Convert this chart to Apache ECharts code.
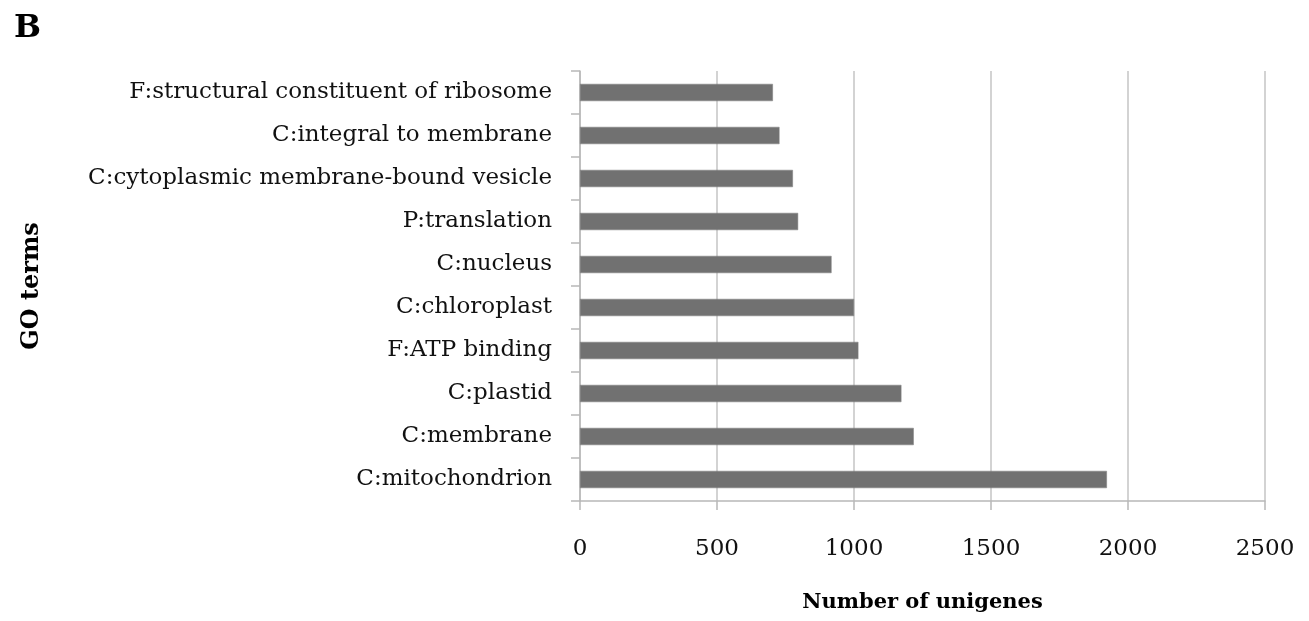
<!DOCTYPE html>
<html><head><meta charset="utf-8">
<script src="https://cdn.jsdelivr.net/npm/echarts@6/dist/echarts.min.js"></script>
<style>html,body{margin:0;padding:0;background:#fff}#c{width:1309px;height:621px}</style>
</head><body><div id="c"></div>
<script>
const categories = [
  'F:structural constituent of ribosome',
  'C:integral to membrane',
  'C:cytoplasmic membrane-bound vesicle',
  'P:translation',
  'C:nucleus',
  'C:chloroplast',
  'F:ATP binding',
  'C:plastid',
  'C:membrane',
  'C:mitochondrion'
];
const unigenes = [704, 728, 777, 796, 918, 1000, 1016, 1173, 1218, 1923];
const xTicks = [0, 500, 1000, 1500, 2000, 2500];

const serif = '"DejaVu Serif", "Liberation Serif", serif';
const chart = echarts.init(document.getElementById('c'), null, {renderer: 'canvas'});
chart.setOption({
  animation: false,
  backgroundColor: '#fff',
  title: {
    text: 'B', left: 9, top: 8,
    textStyle: {fontFamily: serif, fontWeight: 'bold', fontSize: 32, color: '#000'}
  },
  grid: {left: 580, right: 44, top: 71, bottom: 120, containLabel: false},
  xAxis: {
    type: 'value', min: xTicks[0], max: xTicks[xTicks.length - 1], interval: 500,
    name: 'Number of unigenes', nameLocation: 'middle', nameGap: 91,
    nameTextStyle: {fontFamily: serif, fontWeight: 'bold', fontSize: 21, color: '#000'},
    axisLine: {show: true, lineStyle: {color: '#b8b8b8', width: 1.5}},
    axisTick: {show: true, length: 9, lineStyle: {color: '#b8b8b8', width: 1.5}},
    axisLabel: {margin: 37, fontFamily: serif, fontSize: 23, color: '#111',
      formatter: v => String(v)},
    splitLine: {show: true, lineStyle: {color: '#c4c4c4', width: 1.5}}
  },
  yAxis: {
    type: 'category', data: categories, inverse: true,
    name: 'GO terms', nameLocation: 'middle', nameGap: 536, nameRotate: 90,
    nameTextStyle: {fontFamily: serif, fontWeight: 'bold', fontSize: 24, color: '#000'},
    axisLine: {show: true, lineStyle: {color: '#b8b8b8', width: 1.5}},
    axisTick: {show: true, length: 9, alignWithLabel: false, lineStyle: {color: '#b8b8b8', width: 1.5}},
    axisLabel: {margin: 28, fontFamily: serif, fontSize: 23, color: '#111'},
    splitLine: {show: false}
  },
  series: [{
    type: 'bar', data: unigenes, barWidth: '40%',
    itemStyle: {color: '#717171', borderColor: '#7e7e7e', borderWidth: 0.5}
  }]
});
</script></body></html>
